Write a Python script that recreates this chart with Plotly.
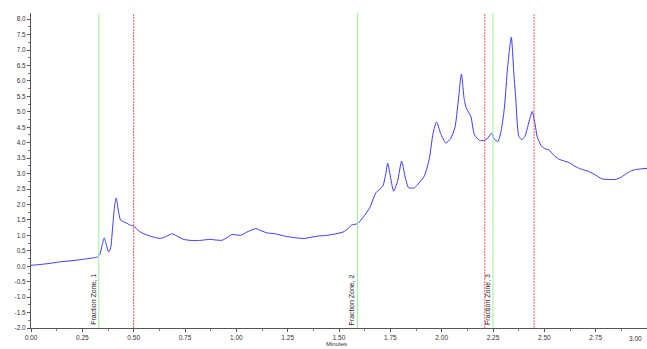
import plotly.graph_objects as go

# Chromatogram trace: retention time (minutes) and detector signal (mV)
time_min = [
    0.00, 0.05, 0.10, 0.15, 0.20, 0.25, 0.30, 0.32, 0.335, 0.347, 0.357, 0.366,
    0.378, 0.388, 0.398, 0.408, 0.415, 0.421, 0.428, 0.436, 0.45, 0.465, 0.48,
    0.50, 0.52, 0.54, 0.57, 0.60, 0.63, 0.66, 0.685, 0.71, 0.742, 0.79, 0.83,
    0.87, 0.90, 0.93, 0.96, 0.98, 1.02, 1.05, 1.095, 1.12, 1.15, 1.19, 1.24,
    1.29, 1.33, 1.39, 1.44, 1.47, 1.52, 1.545, 1.56, 1.59, 1.616, 1.65, 1.68,
    1.713, 1.728, 1.737, 1.748, 1.766, 1.785, 1.805, 1.822, 1.839, 1.867, 1.89,
    1.915, 1.939, 1.958, 1.975, 1.995, 2.02, 2.045, 2.065, 2.08, 2.096, 2.11,
    2.12, 2.142, 2.16, 2.185, 2.206, 2.225, 2.242, 2.258, 2.274, 2.29, 2.305,
    2.322, 2.339, 2.352, 2.36, 2.376, 2.39, 2.405, 2.43, 2.441, 2.455, 2.465,
    2.485, 2.505, 2.522, 2.545, 2.57, 2.60, 2.619, 2.645, 2.667, 2.69, 2.716,
    2.75, 2.78, 2.81, 2.846, 2.87, 2.894, 2.92, 2.943, 2.97, 3.00,
]
signal_mv = [
    0.03, 0.06, 0.10, 0.15, 0.18, 0.22, 0.27, 0.29, 0.38, 0.70, 0.92, 0.72,
    0.46, 0.60, 1.30, 2.00, 2.21, 2.00, 1.70, 1.50, 1.44, 1.40, 1.34,
    1.30, 1.17, 1.08, 1.00, 0.94, 0.90, 0.97, 1.05, 0.98, 0.87, 0.83, 0.84,
    0.87, 0.85, 0.84, 0.95, 1.03, 1.00, 1.10, 1.22, 1.15, 1.08, 1.05, 0.97,
    0.92, 0.90, 0.97, 1.00, 1.03, 1.11, 1.22, 1.33, 1.38, 1.57, 1.90, 2.38,
    2.59, 3.00, 3.34, 3.00, 2.43, 2.75, 3.40, 2.90, 2.54, 2.54, 2.70,
    2.91, 3.45, 4.30, 4.67, 4.30, 3.99, 4.15, 4.50, 5.30, 6.22, 5.40,
    5.12, 4.85, 4.25, 4.08, 4.07, 4.15, 4.31, 4.10, 4.04, 4.40, 5.10,
    6.50, 7.42, 6.20, 5.50, 4.20, 4.10, 4.20, 4.80, 5.01, 4.60, 4.20,
    3.90, 3.80, 3.77, 3.60, 3.47, 3.40, 3.36, 3.25, 3.18, 3.12, 3.07,
    2.95, 2.83, 2.81, 2.81, 2.87, 2.97, 3.08, 3.13, 3.15, 3.17,
]

# Fraction collection zones: start markers (green) and end markers (red)
zone_starts = [0.33, 1.59, 2.25]
zone_ends = [0.50, 2.21, 2.45]
zone_labels = ["Fraction Zone, 1", "Fraction Zone, 2", "Fraction Zone, 3"]

x_ticks = [0.00, 0.25, 0.50, 0.75, 1.00, 1.25, 1.50, 1.75, 2.00, 2.25, 2.50, 2.75]
y_ticks = [-2.0, -1.5, -1.0, -0.5, 0.0, 0.5, 1.0, 1.5, 2.0, 2.5, 3.0, 3.5,
           4.0, 4.5, 5.0, 5.5, 6.0, 6.5, 7.0, 7.5, 8.0]

FONT = "Liberation Sans"
TICK_COLOR = "#333333"

fig = go.Figure()

fig.add_trace(go.Scatter(
    x=time_min, y=signal_mv, mode="lines",
    line=dict(color="#3b3bff", width=1, shape="spline", smoothing=0.6),
    showlegend=False, hoverinfo="x+y",
))

shapes = []
for xs in zone_starts:
    shapes.append(dict(type="line", xref="x", yref="paper", x0=xs, x1=xs, y0=0, y1=1,
                       line=dict(color="#9ef09e", width=1)))
for xe in zone_ends:
    shapes.append(dict(type="line", xref="x", yref="paper", x0=xe, x1=xe, y0=0, y1=1,
                       line=dict(color="#ff5a5a", width=1, dash="2px,1px")))

annotations = []
for xs, label in zip(zone_starts, zone_labels):
    annotations.append(dict(
        x=xs, y=0, xref="x", yref="paper", text=label, textangle=-90,
        xanchor="right", yanchor="bottom", xshift=0, yshift=1, showarrow=False,
        font=dict(family=FONT, size=7, color="#222222"),
    ))
annotations.append(dict(
    x=3.0, y=0, xref="x", yref="paper", text="3.00", xanchor="right", yanchor="top",
    xshift=-3, yshift=-5, showarrow=False,
    font=dict(family=FONT, size=6.5, color=TICK_COLOR),
))
annotations.append(dict(
    x=1.49, y=-0.0667, xref="x", yref="paper", text="Minutes", xanchor="center",
    yanchor="bottom", showarrow=False,
    font=dict(family=FONT, size=6, color=TICK_COLOR),
))
annotations.append(dict(
    x=-0.055, y=3.5, xref="x", yref="y", text="mv", textangle=-90,
    xanchor="center", yanchor="middle", showarrow=False,
    font=dict(family=FONT, size=6.5, color=TICK_COLOR),
))

fig.update_layout(
    width=647, height=349,
    margin=dict(l=31, r=0, t=13, b=21),
    paper_bgcolor="white", plot_bgcolor="white",
    shapes=shapes, annotations=annotations,
    xaxis=dict(
        range=[0, 3.0], tickvals=x_ticks, ticktext=[f"{v:.2f}" for v in x_ticks],
        showgrid=False, zeroline=False, showline=True, linecolor="#555555", linewidth=1,
        ticks="outside", ticklen=3, tickcolor="#555555",
        tickfont=dict(family=FONT, size=6.5, color=TICK_COLOR),
        minor=dict(dtick=0.125, ticks="outside", ticklen=2, tickcolor="#777777"),
    ),
    yaxis=dict(
        range=[-2, 8.2], tickvals=y_ticks, ticktext=[f"{v:.1f}" for v in y_ticks],
        showgrid=False, zeroline=False, showline=True, linecolor="#555555", linewidth=1,
        ticks="outside", ticklen=3, tickcolor="#555555",
        tickfont=dict(family=FONT, size=6.5, color=TICK_COLOR),
        minor=dict(dtick=0.25, ticks="outside", ticklen=2, tickcolor="#777777"),
    ),
)

fig.write_html("out.html")
